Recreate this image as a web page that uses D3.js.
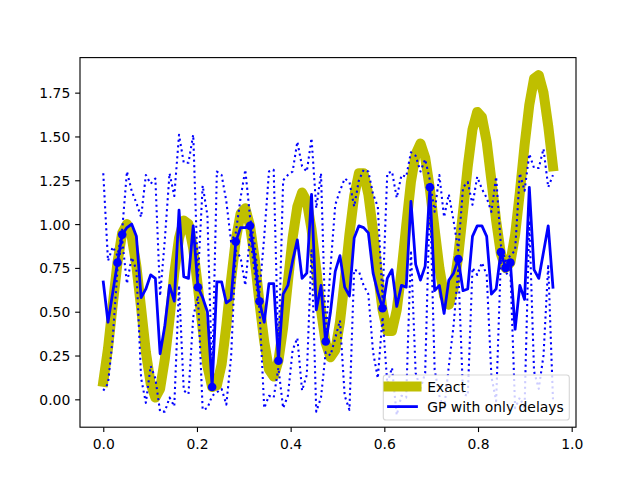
<!DOCTYPE html>
<html>
<head>
<meta charset="utf-8">
<script src="https://cdn.jsdelivr.net/npm/d3@7/dist/d3.min.js"></script>
<style>
  body { margin: 0; background: #fff; }
  svg { display: block; font-family: "DejaVu Sans", sans-serif; }
</style>
</head>
<body>
<div id="chart"></div>
<script>
// grid the GP was evaluated on
var xs = [0, 0.0101, 0.0202, 0.0303, 0.0404, 0.0505, 0.0606, 0.0707, 0.0808, 0.0909,
  0.1011, 0.1112, 0.1213, 0.1314, 0.1415, 0.1516, 0.1617, 0.1718, 0.1819, 0.1920,
  0.2021, 0.2122, 0.2223, 0.2324, 0.2425, 0.2526, 0.2627, 0.2728, 0.2829, 0.2931,
  0.3032, 0.3133, 0.3234, 0.3335, 0.3436, 0.3537, 0.3638, 0.3739, 0.3840, 0.3941,
  0.4042, 0.4143, 0.4244, 0.4345, 0.4446, 0.4547, 0.4648, 0.4749, 0.4851, 0.4952,
  0.5053, 0.5154, 0.5255, 0.5356, 0.5457, 0.5558, 0.5659, 0.5760, 0.5861, 0.5962,
  0.6063, 0.6164, 0.6265, 0.6366, 0.6467, 0.6568, 0.6669, 0.6771, 0.6872, 0.6973,
  0.7074, 0.7175, 0.7276, 0.7377, 0.7478, 0.7579, 0.7680, 0.7781, 0.7882, 0.7983,
  0.8084, 0.8185, 0.8286, 0.8387, 0.8488, 0.8589, 0.8691, 0.8792, 0.8893, 0.8994,
  0.9095, 0.9196, 0.9297, 0.9398, 0.9499, 0.9600];

var exact = [0.10, 0.29, 0.54, 0.78, 0.95, 1.00, 0.93, 0.76, 0.52, 0.27,
  0.09, 0.01, 0.06, 0.23, 0.46, 0.72, 0.92, 1.02, 1.00, 0.86,
  0.64, 0.40, 0.19, 0.07, 0.08, 0.20, 0.42, 0.68, 0.91, 1.06,
  1.09, 0.99, 0.80, 0.55, 0.33, 0.17, 0.13, 0.22, 0.41, 0.67,
  0.92, 1.10, 1.18, 1.13, 0.97, 0.74, 0.51, 0.32, 0.24, 0.28,
  0.44, 0.68, 0.94, 1.16, 1.29, 1.29, 1.17, 0.96, 0.72, 0.51,
  0.39, 0.39, 0.51, 0.73, 0.99, 1.24, 1.40, 1.46, 1.38, 1.20,
  0.97, 0.75, 0.59, 0.54, 0.63, 0.82, 1.07, 1.33, 1.54, 1.64,
  1.61, 1.47, 1.25, 1.02, 0.83, 0.75, 0.78, 0.94, 1.18, 1.45,
  1.68, 1.83, 1.85, 1.75, 1.56, 1.33];

var gpMean = [0.67, 0.44, 0.61, 0.78, 0.94, 0.98, 1.00, 0.93, 0.58, 0.63,
  0.71, 0.69, 0.26, 0.42, 0.65, 0.56, 1.08, 0.70, 0.69, 0.99,
  0.64, 0.58, 0.50, 0.07, 0.67, 0.67, 0.55, 0.57, 0.90, 0.98,
  0.98, 0.99, 0.80, 0.56, 0.44, 0.66, 0.66, 0.22, 0.60, 0.65,
  0.79, 0.91, 0.69, 0.72, 1.17, 0.51, 0.65, 0.32, 0.50, 0.73,
  0.82, 0.64, 0.59, 0.92, 0.99, 0.98, 0.95, 0.72, 0.61, 0.52,
  0.69, 0.74, 0.53, 0.65, 0.64, 1.13, 0.77, 0.68, 0.76, 1.21,
  0.62, 0.65, 0.49, 0.68, 0.72, 0.80, 0.62, 0.63, 0.93, 0.99,
  0.99, 0.93, 0.60, 0.63, 0.84, 0.75, 0.78, 0.40, 0.65, 0.57,
  1.21, 0.74, 0.69, 0.84, 0.99, 0.64];

var gpUpper = [1.29, 0.79, 0.87, 0.82, 0.97, 1.30, 1.19, 1.12, 1.04, 1.28,
  1.23, 1.26, 0.59, 0.91, 1.29, 1.16, 1.51, 1.35, 1.35, 1.51,
  0.69, 1.22, 1.05, 0.12, 1.30, 1.28, 1.13, 0.90, 0.95, 1.15,
  1.31, 1.04, 0.88, 0.61, 0.93, 1.30, 1.31, 0.26, 1.25, 1.28,
  1.30, 1.47, 1.33, 1.30, 1.49, 1.09, 1.29, 0.37, 0.75, 1.11,
  1.19, 1.26, 1.24, 1.10, 1.25, 1.31, 1.30, 1.17, 1.10, 0.57,
  1.29, 1.30, 1.15, 1.28, 1.27, 1.41, 1.39, 1.30, 1.37, 1.25,
  1.07, 1.28, 1.04, 1.17, 1.02, 0.85, 1.21, 1.24, 1.11, 1.27,
  1.20, 1.15, 1.07, 1.27, 0.88, 0.79, 0.82, 0.85, 1.29, 1.19,
  1.40, 1.32, 1.32, 1.43, 1.21, 1.28];

var gpLower = [0.05, 0.09, 0.35, 0.74, 0.91, 0.66, 0.81, 0.74, 0.12, -0.02,
  0.19, 0.12, -0.07, -0.07, 0.01, -0.04, 0.65, 0.05, 0.03, 0.47,
  0.59, -0.06, -0.05, 0.02, 0.04, 0.06, -0.03, 0.24, 0.85, 0.81,
  0.65, 0.94, 0.72, 0.51, -0.05, 0.02, 0.01, 0.18, -0.05, 0.02,
  0.28, 0.35, 0.05, 0.14, 0.85, -0.07, 0.01, 0.27, 0.25, 0.35,
  0.45, 0.02, -0.06, 0.74, 0.73, 0.65, 0.60, 0.27, 0.12, 0.47,
  0.09, 0.18, -0.09, 0.02, 0.01, 0.85, 0.15, 0.06, 0.15, 1.17,
  0.17, 0.02, -0.06, 0.19, 0.42, 0.75, 0.03, 0.02, 0.75, 0.71,
  0.78, 0.71, 0.13, -0.01, 0.80, 0.71, 0.74, -0.05, 0.01, -0.05,
  1.02, 0.16, 0.06, 0.25, 0.77, 0.00];

// observed points
var obsX = [0.0303, 0.0404, 0.2021, 0.2324, 0.2829, 0.3133, 0.3335, 0.3739,
  0.4749, 0.5962, 0.6973, 0.7579, 0.8488, 0.8589, 0.8691];
var obsY = [0.78, 0.94, 0.64, 0.07, 0.90, 0.99, 0.56, 0.22,
  0.33, 0.52, 1.21, 0.80, 0.84, 0.75, 0.78];

var xTicks = [0.0, 0.2, 0.4, 0.6, 0.8, 1.0];
var yTicks = [0.00, 0.25, 0.50, 0.75, 1.00, 1.25, 1.50, 1.75];
var legendLabels = ["Exact", "GP with only delays"];

/////////////////// Drawing ///////////////////

var width = 640, height = 480;
// plot box (window.top is reserved, so keep these in an object)
var box = {left: 80, right: 576, top: 57.6, bottom: 427.2};

var svg = d3.select("#chart")
  .append("svg")
    .attr("width", width)
    .attr("height", height);

var x = d3.scaleLinear().domain([-0.0497, 1.0092]).range([box.left, box.right]);
var y = d3.scaleLinear().domain([-0.159, 1.950]).range([box.bottom, box.top]);

svg.append("clipPath").attr("id", "plotclip")
  .append("rect")
    .attr("x", box.left).attr("y", box.top)
    .attr("width", box.right - box.left).attr("height", box.bottom - box.top);

var plot = svg.append("g").attr("clip-path", "url(#plotclip)");

function seriesLine(vals) {
  return d3.line()
    .x(function(d, i) { return x(xs[i]); })
    .y(function(d) { return y(d); })(vals);
}

// exact solution, thick yellow
plot.append("path")
  .attr("d", seriesLine(exact))
  .attr("fill", "none")
  .attr("stroke", "#bfbf00")
  .attr("stroke-width", 10)
  .attr("stroke-linejoin", "round")
  .attr("stroke-linecap", "square");

// confidence bounds, dotted
[gpUpper, gpLower].forEach(function(band) {
  plot.append("path")
    .attr("d", seriesLine(band))
    .attr("fill", "none")
    .attr("stroke", "#0000ff")
    .attr("stroke-width", 2.08)
    .attr("stroke-dasharray", "2.08,3.43")
    .attr("stroke-linejoin", "round");
});

// GP mean
plot.append("path")
  .attr("d", seriesLine(gpMean))
  .attr("fill", "none")
  .attr("stroke", "#0000ff")
  .attr("stroke-width", 2.78)
  .attr("stroke-linejoin", "round")
  .attr("stroke-linecap", "square");

plot.selectAll("circle.obs")
  .data(obsX)
  .enter().append("circle")
    .attr("class", "obs")
    .attr("cx", function(d) { return x(d); })
    .attr("cy", function(d, i) { return y(obsY[i]); })
    .attr("r", 4.3)
    .attr("fill", "#0000ff");

// axes
var xAxis = d3.axisBottom(x).tickValues(xTicks).tickFormat(d3.format(".1f"))
  .tickSize(4.86).tickPadding(7.3);
var yAxis = d3.axisLeft(y).tickValues(yTicks).tickFormat(d3.format(".2f"))
  .tickSize(4.86).tickPadding(4.9);

var gx = svg.append("g").attr("transform", "translate(0," + box.bottom + ")").call(xAxis);
var gy = svg.append("g").attr("transform", "translate(" + box.left + ",0)").call(yAxis);

[gx, gy].forEach(function(g) {
  g.select(".domain").remove();
  g.selectAll(".tick line").attr("stroke", "#000").attr("stroke-width", 1.11);
  g.selectAll(".tick text")
    .attr("fill", "#000")
    .style("font-family", "DejaVu Sans")
    .style("font-size", "13.9px");
});
gy.selectAll(".tick text").attr("dy", "0.36em");

svg.append("rect")
  .attr("x", box.left).attr("y", box.top)
  .attr("width", box.right - box.left).attr("height", box.bottom - box.top)
  .attr("fill", "none")
  .attr("stroke", "#000")
  .attr("stroke-width", 1.11);

// legend
var legend = svg.append("g");
legend.append("rect")
  .attr("x", 383.3).attr("y", 375)
  .attr("width", 186).attr("height", 45)
  .attr("rx", 2.8).attr("ry", 2.8)
  .attr("fill", "#fff").attr("fill-opacity", 0.8)
  .attr("stroke", "#cccccc").attr("stroke-opacity", 0.8)
  .attr("stroke-width", 1.11);

var handles = [
  {color: "#bfbf00", w: 10, yy: 386.4},
  {color: "#0000ff", w: 2.78, yy: 406.6}
];
handles.forEach(function(h, i) {
  legend.append("line")
    .attr("x1", 388.5).attr("x2", 416.5)
    .attr("y1", h.yy).attr("y2", h.yy)
    .attr("stroke", h.color)
    .attr("stroke-width", h.w)
    .attr("stroke-linecap", "square");
  legend.append("text")
    .attr("x", 427.3)
    .attr("y", h.yy + 5.1)
    .style("font-size", "13.9px")
    .attr("fill", "#000")
    .text(legendLabels[i]);
});
</script>
</body>
</html>
